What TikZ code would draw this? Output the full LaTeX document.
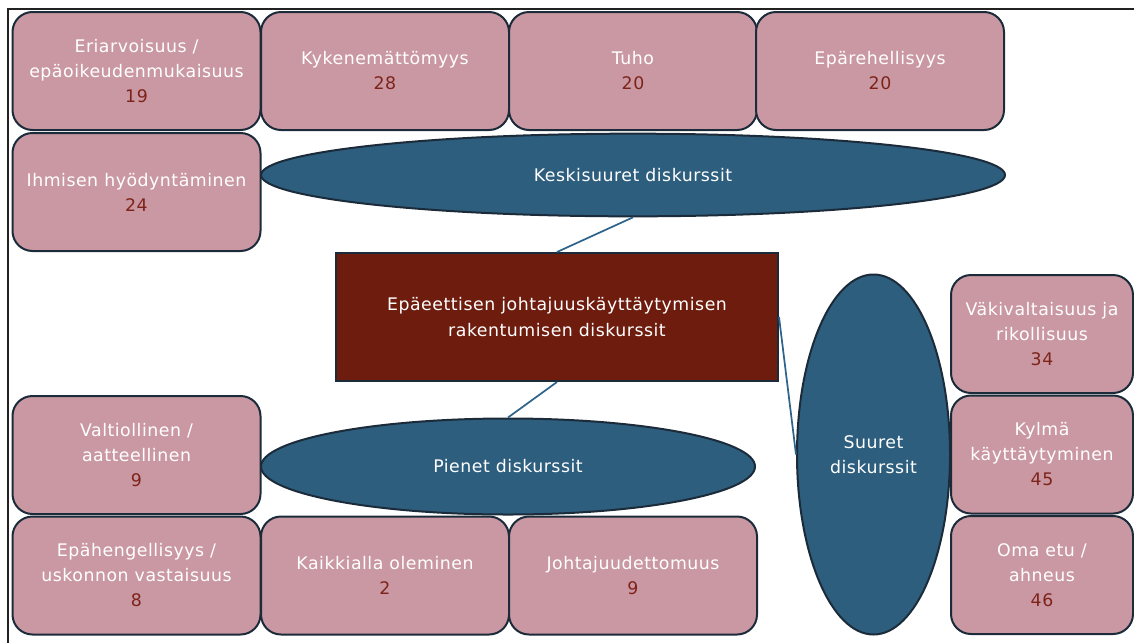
\documentclass[tikz,border=0pt]{standalone}
\usepackage{fontspec}
\setmainfont{DejaVu Sans}[LetterSpace=3]
\usetikzlibrary{shapes.geometric}

\definecolor{boxpink}{RGB}{202,152,163}
\definecolor{edgenavy}{RGB}{27,43,58}
\definecolor{discblue}{RGB}{46,94,126}
\definecolor{coremaroon}{RGB}{110,28,14}
\definecolor{countred}{RGB}{125,35,25}
\definecolor{linkblue}{RGB}{46,100,140}

\tikzset{every picture/.style={line width=0.75pt}}
\tikzset{
  topicbox/.style={draw=edgenavy, line width=1.5pt, fill=boxpink, rounded corners=15pt,
    minimum width=186pt, minimum height=88.5pt, inner sep=0pt, align=center, text=white,
    font=\fontsize{13}{18.75}\selectfont},
  narrowbox/.style={topicbox, minimum width=136.5pt},
  discourse/.style={ellipse, draw=edgenavy, line width=1.5pt, fill=discblue, inner sep=0pt,
    align=center, text=white, font=\fontsize{13}{18.75}\selectfont},
  corebox/.style={draw=edgenavy, line width=1.5pt, fill=coremaroon, minimum width=331.5pt,
    minimum height=96pt, align=center, text=white, font=\fontsize{13}{19.5}\selectfont},
  link/.style={draw=linkblue, line width=1.3pt}
}
\newcommand{\cnt}[1]{\textcolor{countred}{#1}}

\begin{document}
\begin{tikzpicture}[x=0.75pt,y=0.75pt,yscale=-1,xscale=1]
    \useasboundingbox (0,0) rectangle (1134,643);
    
    %Shape: Frame
    \draw [color={rgb, 255:red, 34; green, 34; blue, 34 }, line width=1.6pt] (8,643) -- (8,9) -- (1134,9) ;
    
    %Shape: Ellipse [keskisuuret]
    \node [discourse, minimum width=558pt, minimum height=62pt] (kesk) at (633,175) {Keskisuuret diskurssit};
    %Shape: Ellipse [pienet]
    \node [discourse, minimum width=370.5pt, minimum height=72pt] (pien) at (508,466.5) {Pienet diskurssit};
    %Shape: Ellipse [suuret]
    \node [discourse, minimum width=114.75pt, minimum height=270pt] (suur) at (873.5,454.5) {Suuret\\diskurssit};
    
    %Shape: Rectangle [core]
    \node [corebox] (core) at (557,317) {Epäeettisen johtajuuskäyttäytymisen\\rakentumisen diskurssit};
    
    %Shape: Rounded Rectangle, top row
    \node [topicbox] (eriarvo) at (136.5,71) {Eriarvoisuus /\\epäoikeudenmukaisuus\\\cnt{19}};
    \node [topicbox] (kyken) at (385,71) {Kykenemättömyys\\\cnt{28}};
    \node [topicbox] (tuho) at (633,71) {Tuho\\\cnt{20}};
    \node [topicbox] (epareh) at (880,71) {Epärehellisyys\\\cnt{20}};
    
    %Shape: Rounded Rectangle, left column
    \node [topicbox] (ihmisen) at (136.5,192) {Ihmisen hyödyntäminen\\\cnt{24}};
    \node [topicbox] (valtio) at (136.5,455) {Valtiollinen /\\aatteellinen\\\cnt{9}};
    
    %Shape: Rounded Rectangle, bottom row
    \node [topicbox] (epaheng) at (136.5,575.5) {Epähengellisyys /\\uskonnon vastaisuus\\\cnt{8}};
    \node [topicbox] (kaikki) at (385,575.5) {Kaikkialla oleminen\\\cnt{2}};
    \node [topicbox] (johtaj) at (633,575.5) {Johtajuudettomuus\\\cnt{9}};
    
    %Shape: Rounded Rectangle, right column
    \node [narrowbox] (vakiv) at (1042,334) {Väkivaltaisuus ja\\rikollisuus\\\cnt{34}};
    \node [narrowbox] (kylma) at (1042,454.5) {Kylmä\\käyttäytyminen\\\cnt{45}};
    \node [narrowbox] (omaetu) at (1042,575) {Oma etu /\\ahneus\\\cnt{46}};
    
    % Connectors
    \draw [link] (kesk.south) -- (core.north);
    \draw [link] (core.south) -- (pien.north);
    \draw [link] (core.east) -- (suur.west);
    
\end{tikzpicture}
\end{document}
